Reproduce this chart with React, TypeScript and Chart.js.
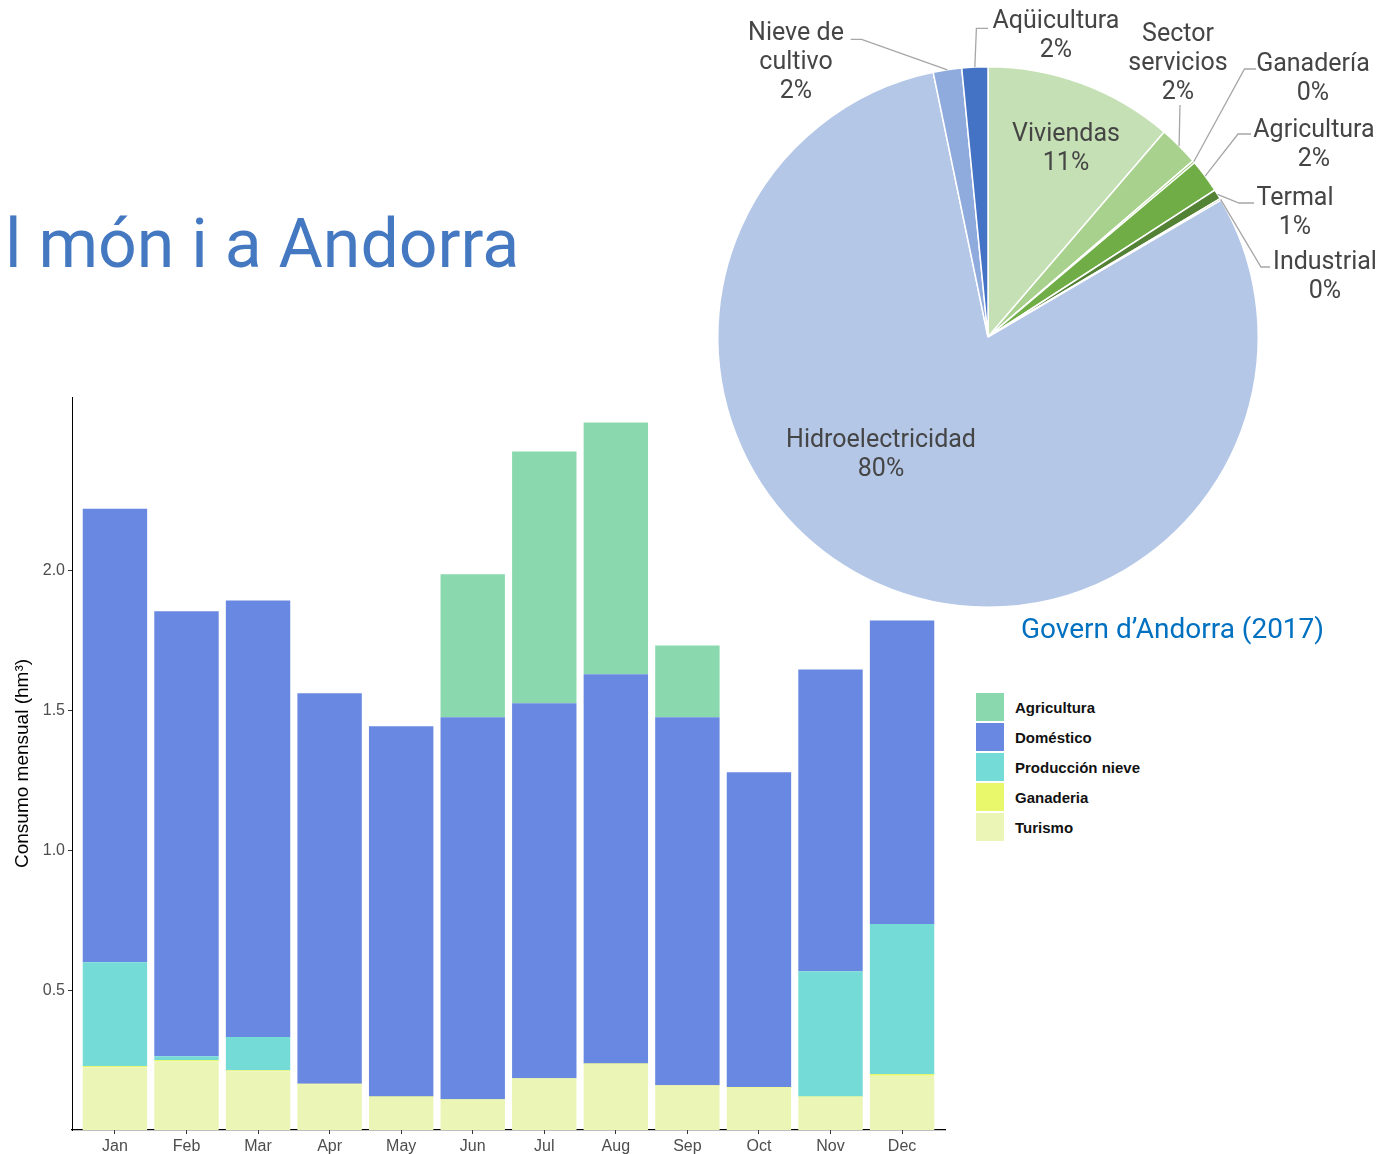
import React, { useEffect, useRef } from "react";
import { Chart, registerables } from "chart.js";

Chart.register(...registerables);

// ---------- Bar chart data ----------
const months = ["Jan", "Feb", "Mar", "Apr", "May", "Jun", "Jul", "Aug", "Sep", "Oct", "Nov", "Dec"];
const turismo = [0.224, 0.246, 0.21, 0.163, 0.118, 0.108, 0.183, 0.236, 0.158, 0.151, 0.118, 0.194];
const ganaderia = [0.005, 0.004, 0.004, 0.002, 0.002, 0.002, 0.002, 0.002, 0.002, 0.003, 0.002, 0.006];
const produccionNieve = [0.371, 0.014, 0.118, 0, 0, 0, 0, 0, 0, 0, 0.447, 0.536];
const domestico = [1.621, 1.59, 1.561, 1.396, 1.323, 1.365, 1.34, 1.391, 1.315, 1.125, 1.079, 1.085];
const agricultura = [0, 0, 0, 0, 0, 0.511, 0.9, 0.9, 0.257, 0, 0, 0];
const yTicks = [0.5, 1.0, 1.5, 2.0];
const legendNames = ["Agricultura", "Doméstico", "Producción nieve", "Ganaderia", "Turismo"];

// ---------- Pie chart data ----------
const pieNames = [
  "Viviendas",
  "Sector\nservicios",
  "Ganadería",
  "Agricultura",
  "Termal",
  "Industrial",
  "Hidroelectricidad",
  "Nieve de\ncultivo",
  "Aqüicultura",
];
const pieValues = [11.3, 2.4, 0.15, 2.0, 0.6, 0.1, 80.2, 1.7, 1.55];

const titleText = "l món i a Andorra";
const sourceText = "Govern d\u2019Andorra (2017)";

// ---------- Styles ----------
const barColors: Record<string, string> = {
  Agricultura: "#8ad9ae",
  "Doméstico": "#6888e1",
  "Producción nieve": "#74dbd6",
  Ganaderia: "#e9f76a",
  Turismo: "#ebf6b6",
};
const pieColors = ["#c5e0b4", "#a9d18e", "#8cc063", "#70ad47", "#548235", "#385723", "#b4c7e7", "#8faadc", "#4472c4"];

// label layout (offsets from the pie centre, px)
type LabelLayout = { block: [number, number]; elbow?: [number, number]; end?: [number, number]; inside?: boolean };
const pieLabelLayout: LabelLayout[] = [
  { block: [78, -188], inside: true },
  { block: [190, -273], end: [192, -232] },
  { block: [325, -258], elbow: [256.5, -268], end: [268, -268] },
  { block: [326, -192], elbow: [250, -203], end: [263, -203] },
  { block: [307, -124], elbow: [251, -134], end: [266, -134] },
  { block: [337, -60], elbow: [273, -70], end: [282, -70] },
  { block: [-107, 118], inside: true },
  { block: [-192, -274.5], elbow: [-126.4, -297.7], end: [-137.3, -297.7] },
  { block: [68, -300.5], elbow: [-11.6, -308.7], end: [0, -308.7] },
];

const axisFont = "'Liberation Sans', Arial, sans-serif";
const pieFont = "Roboto, 'Noto Sans', sans-serif";

function BarChart() {
  const ref = useRef<HTMLCanvasElement>(null);
  useEffect(() => {
    if (!ref.current) return;
    const series: [string, number[]][] = [
      ["Turismo", turismo],
      ["Ganaderia", ganaderia],
      ["Producción nieve", produccionNieve],
      ["Doméstico", domestico],
      ["Agricultura", agricultura],
    ];
    const chart = new Chart(ref.current, {
      type: "bar",
      data: {
        datasets: series.map(([name, vals]) => ({
          label: name,
          data: vals.map((v, i) => ({ x: i, y: v })),
          backgroundColor: barColors[name],
          borderWidth: 0,
          stack: "all",
          barPercentage: 0.9,
          categoryPercentage: 1,
        })),
      },
      options: {
        animation: false,
        responsive: false,
        layout: { padding: { top: 17, right: 15, left: 0, bottom: 0 } },
        plugins: { legend: { display: false }, tooltip: { enabled: false } },
        scales: {
          x: {
            type: "linear",
            offset: false,
            min: -0.6,
            max: months.length - 0.4,
            afterBuildTicks: (s: any) => {
              s.ticks = months.map((_, i) => ({ value: i }));
            },
            afterFit: (s: any) => {
              s.height = 24;
            },
            ticks: {
              autoSkip: false,
              maxRotation: 0,
              padding: 3,
              color: "#4d4d4d",
              font: { family: axisFont, size: 16 },
              callback: (v: any) => months[v as number] ?? "",
            },
            grid: { offset: false, drawOnChartArea: false, drawTicks: true, tickLength: 4, color: "#333" },
            border: { display: true, color: "#000", width: 1.2 },
          },
          y: {
            type: "linear",
            stacked: true,
            min: 0,
            max: 2.62,
            afterBuildTicks: (s: any) => {
              s.ticks = yTicks.map((v) => ({ value: v }));
            },
            afterFit: (s: any) => {
              s.width = 72;
            },
            ticks: {
              padding: 3,
              color: "#4d4d4d",
              font: { family: axisFont, size: 16 },
              callback: (v: any) => Number(v).toFixed(1),
            },
            grid: { drawOnChartArea: false, drawTicks: true, tickLength: 4, color: "#333" },
            border: { display: true, color: "#000", width: 1 },
            title: {
              display: true,
              text: "Consumo mensual (hm³)",
              color: "#000",
              font: { family: axisFont, size: 19 },
              padding: { top: 11, bottom: 0 },
            },
          },
        },
      },
    });
    return () => chart.destroy();
  }, []);
  return (
    <canvas
      ref={ref}
      width={960}
      height={774}
      style={{ position: "absolute", left: 0, top: 380, width: 960, height: 774 }}
    />
  );
}

const pieLabelPlugin = {
  id: "pieLabels",
  afterDraw(chart: any) {
    const meta = chart.getDatasetMeta(0);
    const ctx = chart.ctx as CanvasRenderingContext2D;
    const total = pieValues.reduce((a, b) => a + b, 0);
    ctx.save();
    meta.data.forEach((arc: any, i: number) => {
      const lay = pieLabelLayout[i];
      const cx = arc.x;
      const cy = arc.y;
      const r = arc.outerRadius;
      const mid = (arc.startAngle + arc.endAngle) / 2;
      if (!lay.inside && lay.end) {
        ctx.strokeStyle = "#a6a6a6";
        ctx.lineWidth = 1.3;
        ctx.beginPath();
        ctx.moveTo(cx + Math.cos(mid) * r, cy + Math.sin(mid) * r);
        if (lay.elbow) ctx.lineTo(cx + lay.elbow[0], cy + lay.elbow[1]);
        ctx.lineTo(cx + lay.end[0], cy + lay.end[1]);
        ctx.stroke();
      }
      const pct = Math.round((pieValues[i] / total) * 100) + "%";
      const lines = [...pieNames[i].split("\n"), pct];
      const lh = 28.8;
      ctx.fillStyle = "#454545";
      ctx.font = `25px ${pieFont}`;
      ctx.textAlign = "center";
      ctx.textBaseline = "middle";
      lines.forEach((t, k) => {
        ctx.fillText(t, cx + lay.block[0], cy + lay.block[1] + (k - (lines.length - 1) / 2) * lh);
      });
    });
    ctx.restore();
  },
};

function PieChart() {
  const ref = useRef<HTMLCanvasElement>(null);
  useEffect(() => {
    if (!ref.current) return;
    const chart = new Chart(ref.current, {
      type: "pie",
      data: {
        labels: pieNames.map((n) => n.replace("\n", " ")),
        datasets: [
          {
            data: pieValues,
            backgroundColor: pieColors,
            borderColor: "#ffffff",
            borderWidth: 1.5,
          },
        ],
      },
      options: {
        animation: false,
        responsive: false,
        layout: { padding: { left: 17, right: 124, top: 66, bottom: 52 } },
        plugins: { legend: { display: false }, tooltip: { enabled: false } },
      },
      plugins: [pieLabelPlugin],
    });
    return () => chart.destroy();
  }, []);
  return (
    <canvas
      ref={ref}
      width={683}
      height={660}
      style={{ position: "absolute", left: 700, top: 0, width: 683, height: 660 }}
    />
  );
}

function Legend() {
  return (
    <div style={{ position: "absolute", left: 976, top: 693 }}>
      {legendNames.map((n) => (
        <div key={n} style={{ display: "flex", alignItems: "center", height: 30 }}>
          <div style={{ width: 28, height: 28, marginBottom: 2, background: barColors[n] }} />
          <div
            style={{
              marginLeft: 11,
              marginBottom: 2,
              font: `bold 15px ${axisFont}`,
              color: "#111",
              whiteSpace: "nowrap",
            }}
          >
            {n}
          </div>
        </div>
      ))}
    </div>
  );
}

export default function App() {
  return (
    <div
      style={{
        position: "absolute",
        left: 0,
        top: 0,
        width: 1383,
        height: 1154,
        background: "#fff",
        overflow: "hidden",
      }}
    >
      <div
        style={{
          position: "absolute",
          left: 5,
          top: 210,
          font: `68px ${pieFont}`,
          lineHeight: "68px",
          color: "#4479c1",
          whiteSpace: "nowrap",
        }}
      >
        {titleText}
      </div>
      <BarChart />
      <PieChart />
      <div
        style={{
          position: "absolute",
          left: 1021,
          top: 615,
          font: `28px ${pieFont}`,
          lineHeight: "28px",
          color: "#0070c0",
          whiteSpace: "nowrap",
        }}
      >
        {sourceText}
      </div>
      <Legend />
    </div>
  );
}
